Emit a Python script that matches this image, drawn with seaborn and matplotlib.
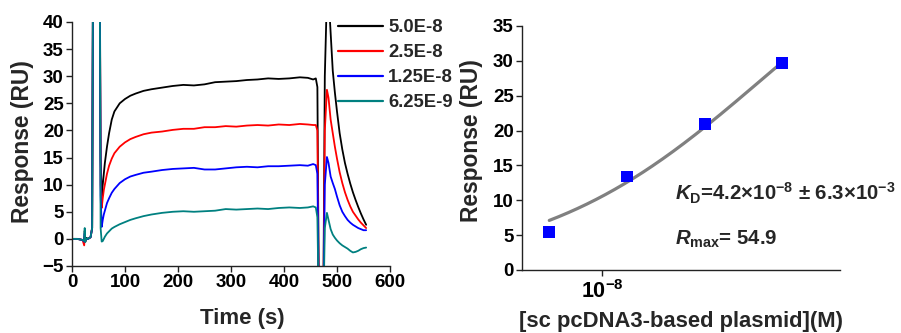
import numpy as np
import pandas as pd
import matplotlib
matplotlib.use("Agg")
import matplotlib.pyplot as plt
from matplotlib.ticker import FixedLocator, NullLocator, FixedFormatter
import seaborn as sns

# ---- sensorgram data (time in s, response in RU) ----
time_s = [0, 10, 20, 23, 24, 25, 27, 30, 35, 38, 40, 42, 50, 52, 54, 56, 58, 60,
          62, 66, 70, 75, 80, 90, 100, 110, 120, 135, 150, 170, 190, 210, 230,
          250, 270, 290, 310, 330, 350, 370, 390, 410, 430, 445, 455, 460, 463,
          466, 470, 474, 477, 481, 484, 488, 492, 496, 500, 505, 510, 515, 520,
          525, 530, 535, 540, 545, 550, 555]

resp_5e8 = [0, 0, -0.2, -0.3, 1.5, -0.5, 0.2, 0, 0.3, 2, 60, 60, 60, 60, 15, 7.8, 10, 12,
            14, 17, 19.5, 22, 23.5, 25, 25.8, 26.4, 26.8, 27.3, 27.6, 27.9, 28.2, 28.4, 28.3,
            28.5, 28.9, 29.0, 29.1, 29.3, 29.4, 29.6, 29.5, 29.6, 29.8, 29.7, 29.4, 29.6, 28,
            -15, -15, -15, 30, 45, 45, 38, 31, 27, 23.5, 19.5, 16.5, 14, 12,
            10.2, 8.6, 7.2, 5.9, 4.7, 3.6, 2.6]

resp_25e8 = [0, 0, -0.2, -1.2, 0.5, -0.5, 0, 0, 0.3, 2, 60, 60, 60, 60, 10, 5.7, 7.5, 9,
             10, 12, 13.5, 14.8, 15.8, 17.0, 17.8, 18.4, 18.8, 19.3, 19.6, 19.8, 20.1, 20.3, 20.3,
             20.6, 20.6, 20.8, 20.7, 20.9, 21.0, 20.9, 21.1, 21.0, 21.2, 21.1, 21.0, 21.0, 20,
             -15, -15, -15, 20, 27.5, 26, 22, 19.5, 17, 14.8, 12.3, 10.3, 8.6, 7.2,
             6.0, 5.0, 4.3, 3.6, 3.0, 2.5, 2.0]

resp_125e8 = [0, 0, -0.2, -0.5, 1.0, -0.3, 0, 0, 0.3, 2, 60, 60, 60, 60, 8, 2.2, 3.5, 4.5,
              5.2, 6.6, 7.5, 8.5, 9.2, 10.3, 11.0, 11.5, 11.8, 12.2, 12.4, 12.7, 12.9, 13.0, 13.1,
              12.8, 12.8, 13.0, 13.2, 13.3, 13.2, 13.4, 13.4, 13.5, 13.6, 13.5, 13.8, 13.6, 12,
              -15, -15, -15, 10, 15.1, 14, 11.5, 10.3, 9.2, 7.8, 6.2, 5.0, 4.2, 3.5,
              3.0, 2.6, 2.3, 2.0, 1.8, 1.6, 1.6]

resp_625e9 = [0, 0, -0.2, -0.4, 2.0, -0.6, 0.1, 0, 0.3, 2, 60, 60, 60, 60, 2, -0.5, -0.4, 0,
              0.4, 1.0, 1.4, 1.9, 2.2, 2.7, 3.1, 3.5, 3.8, 4.2, 4.5, 4.8, 5.0, 5.1, 5.0,
              5.1, 5.2, 5.5, 5.4, 5.5, 5.6, 5.5, 5.7, 5.8, 5.7, 5.8, 6.0, 5.8, 4,
              -15, -15, -15, 2, 4.8, 3.5, 1.8, 0.8, 0.2, -0.3, -0.8, -1.2, -1.5, -1.8,
              -2.2, -2.5, -2.4, -2.2, -1.9, -1.7, -1.6]

trace_labels = ["5.0E-8", "2.5E-8", "1.25E-8", "6.25E-9"]
trace_colors = ["#000000", "#ff0000", "#0000ff", "#008080"]

# ---- steady-state binding data ----
conc_M = [6.25e-9, 1.25e-8, 2.5e-8, 5.0e-8]
resp_eq = [5.5, 13.4, 20.9, 29.7]
kd_fit = 4.2e-8
rmax_fit = 54.9

# ---- figure ----
sns.set_style("ticks")
plt.rcParams["font.family"] = ["Liberation Sans", "DejaVu Sans"]
plt.rcParams["font.weight"] = "bold"
plt.rcParams["mathtext.fontset"] = "custom"
plt.rcParams["mathtext.rm"] = "Liberation Sans:bold"
plt.rcParams["mathtext.bf"] = "Liberation Sans:bold"
plt.rcParams["mathtext.it"] = "Liberation Sans:italic:bold"
plt.rcParams["mathtext.sf"] = "Liberation Sans:bold"

fig = plt.figure(figsize=(9.01, 3.33), dpi=100)
ax1 = fig.add_axes([72 / 901, 67 / 333, 318 / 901, 244 / 333])
ax2 = fig.add_axes([522 / 901, 63 / 333, 318 / 901, 244 / 333])

series = [resp_5e8, resp_25e8, resp_125e8, resp_625e9]
frames = []
for lab, vals in zip(trace_labels, series):
    frames.append(pd.DataFrame({"time": time_s, "resp": vals, "conc": lab}))
df = pd.concat(frames, ignore_index=True)

sns.lineplot(data=df, x="time", y="resp", hue="conc", hue_order=trace_labels,
             palette=trace_colors, estimator=None, sort=False, linewidth=1.3,
             ax=ax1)

ax1.set_xlim(0, 600)
ax1.set_ylim(-5, 40)
ax1.set_xticks(range(0, 601, 100))
ax1.set_yticks(range(-5, 41, 5))
ax1.set_xlabel("Time (s)", fontsize=16, fontweight="bold")
ax1.set_ylabel("Response (RU)", fontsize=16.4, fontweight="bold")
ax1.xaxis.set_label_coords(0.535, -0.172)
ax1.yaxis.set_label_coords(-0.118, 0.51)
leg = ax1.legend(loc="upper left", bbox_to_anchor=(0.836, 1.012), frameon=False,
                 fontsize=13.3, handlelength=2.45, handletextpad=0.27,
                 labelspacing=0.44, borderaxespad=0, borderpad=0)
for h in leg.get_lines():
    h.set_linewidth(1.6)
for t in leg.get_texts():
    t.set_fontweight("bold")

# binding isotherm
cfit = np.geomspace(conc_M[0], conc_M[-1], 200)
rfit = rmax_fit * cfit / (kd_fit + cfit)
sns.lineplot(x=cfit, y=rfit, color="#808080", linewidth=2.3, ax=ax2)
sns.scatterplot(x=conc_M, y=resp_eq, marker="s", s=72, color="#0000ff",
                edgecolor="none", ax=ax2, zorder=3)

ax2.set_xscale("log")
ax2.set_xlim(4.9e-9, 8.36e-8)
ax2.set_ylim(0, 35)
ax2.xaxis.set_major_locator(FixedLocator([1e-8]))
ax2.xaxis.set_major_formatter(FixedFormatter([r"$\mathregular{10^{-8}}$"]))
ax2.xaxis.set_minor_locator(NullLocator())
ax2.set_yticks(range(0, 36, 5))
ax2.set_xlabel("[sc pcDNA3-based plasmid](M)", fontsize=15.8, fontweight="bold")
ax2.set_ylabel("Response (RU)", fontsize=16.4, fontweight="bold")
ax2.xaxis.set_label_coords(0.5, -0.17)
ax2.yaxis.set_label_coords(-0.123, 0.53)

ax2.text(1.92e-8, 11.0,
         r"$K_{\mathrm{D}}$=4.2$\times$10$^{-8}$ $\pm$ 6.3$\times$10$^{-3}$",
         fontsize=14.7, fontweight="bold", ha="left", va="center")
ax2.text(1.92e-8, 4.4, r"$R_{\mathrm{max}}$= 54.9",
         fontsize=14.7, fontweight="bold", ha="left", va="center")

for ax in (ax1, ax2):
    sns.despine(ax=ax)
    for side in ("left", "bottom"):
        ax.spines[side].set_linewidth(1.0)
        ax.spines[side].set_color("#222222")
    ax.tick_params(direction="out", length=4, width=1, colors="#222222",
                   labelsize=13.5, labelcolor="black", pad=2)
    for lbl in ax.get_xticklabels() + ax.get_yticklabels():
        lbl.set_fontweight("bold")
ax2.tick_params(axis="x", labelsize=15.5, pad=3)

fig.savefig("out.png", dpi=100)
